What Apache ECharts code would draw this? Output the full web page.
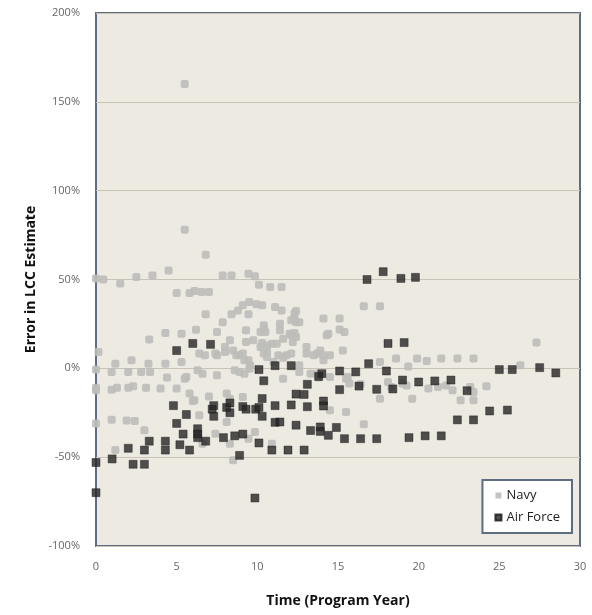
<!DOCTYPE html>
<html><head><meta charset="utf-8">
<script src="https://cdn.jsdelivr.net/npm/echarts@6/dist/echarts.min.js"></script>
<style>html,body{margin:0;padding:0;background:#fff}#c{width:592px;height:615px}</style>
</head><body><div id="c"></div>
<script>
const xTicks = [0,5,10,15,20,25,30];
const yTicks = [-100,-50,0,50,100,150,200];
const navyX = [5.5,5.5,6.8,0,0.45,1.5,2.5,3.5,4.5,5.0,5.8,6.1,6.55,7.0,7.85,8.4,9.45,9.85,10.1,10.8,11.5,6.8,7.85,8.4,8.8,9.1,9.5,9.95,10.3,9.45,11.1,11.5,12.3,12.4,12.4,12.1,12.6,12.3,11.4,10.4,10.4,10.2,10.5,11.4,9.3,7.5,6.2,5.3,4.3,3.3,8.3,9.3,9.75,10.3,10.9,11.2,12.0,12.1,12.3,12.2,12.4,11.6,14.1,15.1,14.4,14.3,15.1,15.4,16.6,17.6,13.05,8.0,10.2,10.6,13.9,15.3,6.4,6.75,7.4,7.5,8.0,8.5,8.7,8.9,9.1,9.2,9.45,9.55,10.4,10.6,10.6,11.3,11.6,11.8,12.1,13.05,13.5,13.7,14.1,14.5,14.1,11.0,12.6,0.15,1.2,2.2,3.25,4.3,5.3,0,0.97,2.0,2.8,3.35,6.3,6.6,7.5,8.6,8.9,9.5,9.2,11.6,12.6,13.3,13.7,13.8,14.5,15.6,15.5,15.7,16.4,17.6,18.6,19.35,19.9,20.5,21.4,22.4,23.4,26.3,27.3,18.1,18.3,19.0,19.25,20.6,21.2,21.7,22.1,23.2,23.4,24.2,17.6,19.6,22.6,23.4,14.5,15.5,16.6,5.6,5.5,4.4,0,0,0.97,1.3,2.0,2.3,3.1,4.0,5.0,5.8,6.1,6.0,7.0,8.1,8.3,9.1,6.4,8.1,7.4,0.97,1.9,2.4,3.0,0,1.2,8.5,9.45,9.85,10.9,8.3,6.6];
const navyY = [160,78,64,50.5,50,47.7,51.4,52.3,55,42.4,42.4,43.5,43,43,52.3,52.3,53.3,51.8,47,45.8,45.8,30.4,26,30.4,32.6,35.5,37.3,36,35.5,30.4,34.5,32.6,30.8,32.2,26,27,26,28,25.1,24.2,22.3,20.4,20.4,21.4,21.4,20.4,21.7,19.5,19.9,16.2,15.8,14.8,15.8,14.2,13.9,13.9,19.5,18.6,19.9,14.8,17.6,16.7,28,28,19.5,18.6,21.8,20.4,34.9,34.9,12,12,12,12.9,10.1,10.1,8.3,7.3,8.3,7.3,9.2,10.1,7.3,7.3,8.3,4.5,4.5,1.7,8.3,6.4,9.2,7.3,6,7.3,8.3,8.3,7.3,8.3,7.3,7.3,4.5,3.5,1.7,9.2,2.6,4.5,2.6,2.6,3.5,-0.7,-2,-2,-2,-2,-1.1,-3,-3.9,-1.1,-2,-0.2,-3,-5.8,-2,-3,-3,-5.2,-4.9,-4.9,-5.8,-8.6,-9,3.5,5.5,1.1,5.5,4.1,5.5,5.5,5.5,1.7,14.6,-7.7,-10.5,-8.6,-9.6,-11.4,-10.5,-9.6,-12.4,-10.5,-13.3,-10.1,-17.1,-17.1,-18,-18,-23.6,-24.6,-31.5,-4.9,-5.8,-5.2,-10.9,-12.4,-12,-10.9,-10.9,-10.1,-10.9,-11.4,-11.4,-14.2,-18,-18.4,-15.8,-14.2,-17.1,-16.2,-26.4,-30.2,-36.8,-28.9,-29.3,-29.7,-34.9,-31,-46,-51.8,-39.6,-35.8,-42.4,-42.4,-42.4];
const afX = [0,0,1.0,2.0,2.3,3.0,3.0,3.3,4.3,4.3,4.8,5.0,5.0,5.2,5.4,5.6,5.8,6.0,6.3,6.3,6.3,6.8,7.1,7.2,7.3,7.3,7.9,8.1,8.3,8.3,8.6,8.9,9.1,9.1,9.3,9.9,10.1,9.85,10.1,10.1,10.3,10.3,10.4,10.9,11.1,11.1,11.1,11.4,11.9,12.1,12.1,12.4,12.4,12.9,12.9,13.1,13.1,13.3,13.9,13.9,14.0,13.8,14.1,14.1,14.4,14.9,15.1,15.1,15.4,16.1,16.3,16.4,16.8,16.9,17.4,17.4,17.8,18.0,18.1,18.4,18.9,19.0,19.1,19.4,19.8,20.0,20.4,21.0,21.4,22.0,22.4,23.0,23.4,24.4,25.0,25.5,25.8,27.5,28.5];
const afY = [-53,-70,-51,-45,-54,-54,-46,-41,-41,-46,-21,10,-31,-43,-37,-26,-46,14,-34,-37,-39,-41,13.5,-23,-21,-27,-39,-22,-19.5,-25,-38,-49,-37,-21.5,-23,-23,-22,-73,-42,-0.7,-17,-27,-7,-46,1.5,-21,-30.4,-30.2,-46,1.5,-20.6,-14.5,-32,-14.7,-46,-9,-21.6,-35,-33,-35.5,-3,-4.6,-18.4,-21.2,-37.7,-33.3,-1.5,-12,-39.6,-2,-10,-39.6,50,2.6,-11.8,-39.6,54.4,-1.5,14,-11.6,50.6,-6.6,14.5,-39,51.2,-7.7,-38,-7.1,-38,-6.6,-29,-12.6,-29,-24,-0.7,-23.5,-0.7,0.4,-2.6];

const navyData = navyX.map((x,i)=>[x,navyY[i]]);
const afData = afX.map((x,i)=>[x,afY[i]]);

const chart = echarts.init(document.getElementById('c'));
const font = "'Open Sans', 'Liberation Sans', sans-serif";
chart.setOption({
  animation:false,
  backgroundColor:'#ffffff',
  grid:{left:96,right:12,top:13,bottom:69,show:true,backgroundColor:'#EDEAE2',borderColor:'#5e6c84',borderWidth:2},
  xAxis:{type:'value',min:xTicks[0],max:xTicks[xTicks.length-1],interval:5,
    axisLine:{show:false},axisTick:{show:false},splitLine:{show:false},
    axisLabel:{color:'#666',fontSize:11,margin:15,fontFamily:font},
    name:'Time (Program Year)',nameLocation:'middle',nameGap:48,
    nameTextStyle:{fontSize:14,fontWeight:'bold',color:'#111',fontFamily:font}},
  yAxis:{type:'value',min:yTicks[0],max:yTicks[yTicks.length-1],interval:50,
    axisLine:{show:false},axisTick:{show:false},
    splitLine:{show:true,lineStyle:{color:'#c8c3b6',width:1}},
    axisLabel:{color:'#666',fontSize:11,margin:16,formatter:'{value}%',fontFamily:font},
    name:'Error in LCC Estimate',nameLocation:'middle',nameGap:54,
    nameTextStyle:{fontSize:14,fontWeight:'bold',color:'#111',fontFamily:font}},
  legend:{orient:'vertical',right:20,bottom:82,backgroundColor:'#ffffff',borderColor:'#5e6c84',borderWidth:2,
    padding:[9,12,9,12],itemGap:9,itemWidth:6,itemHeight:6,icon:'rect',
    textStyle:{fontSize:13,color:'#222',fontFamily:font},
    data:['Navy','Air Force']},
  series:[
    {name:'Navy',type:'scatter',data:navyData,symbol:'roundRect',symbolSize:8,
      itemStyle:{color:'#bdbcb9',opacity:0.9}},
    {name:'Air Force',type:'scatter',data:afData,symbol:'rect',symbolSize:8,
      itemStyle:{color:'#262626',borderColor:'#111',borderWidth:0.5}}
  ]
});
</script></body></html>
